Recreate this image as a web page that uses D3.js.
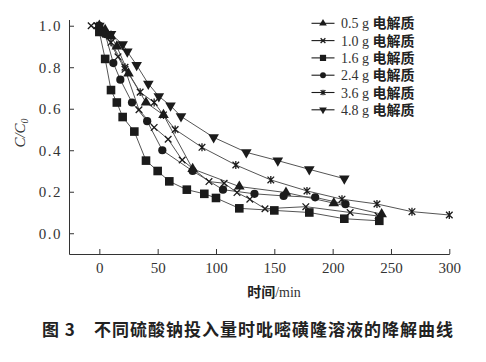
<!DOCTYPE html>
<html><head><meta charset="utf-8">
<script src="https://cdn.jsdelivr.net/npm/d3@7"></script>
<style>
html,body{margin:0;padding:0;background:#fff;}
svg{display:block;}
</style></head>
<body>
<svg id="c" width="486" height="362"></svg>
<script>
// ---- data ----
const seriesNames = ["0.5 g", "1.0 g", "1.6 g", "2.4 g", "3.6 g", "4.8 g"];
const legendSuffix = "电解质";
const t05 = [0, 5, 10, 15, 25, 40, 55, 80, 120, 160, 201, 242];
const c05 = [1.0, 0.98, 0.95, 0.90, 0.77, 0.63, 0.57, 0.31, 0.225, 0.196, 0.145, 0.092];
const t10 = [-7, 5, 16, 22, 34, 47, 59, 71, 94, 107, 118, 129, 142, 177, 215, 239];
const c10 = [1.0, 0.96, 0.85, 0.79, 0.595, 0.51, 0.453, 0.353, 0.249, 0.241, 0.196, 0.164, 0.118, 0.128, 0.10, 0.083];
const t16 = [0, 5, 10, 15, 20, 30, 40, 50, 60, 75, 90, 100, 120, 150, 180, 210, 240];
const c16 = [0.97, 0.84, 0.69, 0.63, 0.56, 0.49, 0.35, 0.30, 0.25, 0.21, 0.19, 0.17, 0.12, 0.11, 0.10, 0.07, 0.06];
const t24 = [0, 5, 12, 18, 28, 41, 54, 80, 106, 133, 158, 185, 211];
const c24 = [1.0, 0.96, 0.82, 0.74, 0.63, 0.54, 0.40, 0.30, 0.21, 0.19, 0.18, 0.173, 0.14];
const t36 = [-2, 10, 22, 35, 47, 55, 65, 88, 117, 147, 178, 208, 238, 268, 300];
const c36 = [1.0, 0.92, 0.80, 0.68, 0.63, 0.57, 0.50, 0.414, 0.329, 0.257, 0.204, 0.164, 0.141, 0.104, 0.088];
const t48 = [0, 10, 20, 24, 32, 42, 51, 61, 70, 98, 126, 153, 180, 210];
const c48 = [1.0, 0.96, 0.91, 0.875, 0.81, 0.72, 0.66, 0.615, 0.563, 0.462, 0.39, 0.35, 0.308, 0.263];
const xTicks = [0, 50, 100, 150, 200, 250, 300];
const yTicks = [0.0, 0.2, 0.4, 0.6, 0.8, 1.0];
const xTitleCN = "时间", xTitleUnit = "/min";
const caption = "图 3\u3000不同硫酸钠投入量时吡嘧磺隆溶液的降解曲线";

const series = [
  {t: t05, c: c05, m: "triUp"},
  {t: t10, c: c10, m: "cross"},
  {t: t16, c: c16, m: "square"},
  {t: t24, c: c24, m: "circle"},
  {t: t36, c: c36, m: "crossBar"},
  {t: t48, c: c48, m: "triDown"}
];

// ---- layout ----
const svg = d3.select("#c");
const x = d3.scaleLinear().domain([-26, 300]).range([69, 449.3]);
const y = d3.scaleLinear().domain([-0.1, 1.03]).range([254, 19.5]);
const serif = "'Liberation Serif','Times New Roman',serif";
const cjk = "'Noto Sans CJK SC','Noto Sans',sans-serif";
const ink = "#1b1b1b";

// axes
const xAxis = d3.axisBottom(x).tickValues(xTicks).tickSizeInner(-5).tickSizeOuter(0).tickPadding(8).tickFormat(d3.format("d"));
const gx = svg.append("g").attr("transform", `translate(0,${y(-0.1)})`).call(xAxis);
const yAxis = d3.axisLeft(y).tickValues(yTicks).tickSizeInner(-5).tickSizeOuter(0).tickPadding(7).tickFormat(d3.format(".1f"));
const gy = svg.append("g").attr("transform", `translate(${x(-26)},0)`).call(yAxis);
[gx, gy].forEach(g => {
  g.select(".domain").attr("stroke", "#333").attr("stroke-width", 1);
  g.selectAll(".tick line").attr("stroke", "#333");
  g.selectAll("text").attr("font-family", serif).attr("font-size", 15).attr("fill", "#333");
});
gy.selectAll("text").attr("letter-spacing", 1.5);

// marker drawing
function drawMarker(g, type, s) {
  if (type === "cross" || type === "crossBar") {
    let p = `M${-s},${-s}L${s},${s}M${-s},${s}L${s},${-s}`;
    if (type === "crossBar") p += `M0,${-s*1.2}L0,${s*1.2}`;
    g.append("path").attr("d", p).attr("stroke", ink).attr("stroke-width", 1.3).attr("fill", "none");
  } else if (type === "square") {
    g.append("path").attr("d", d3.symbol(d3.symbolSquare, s * s * 4)()).attr("fill", ink);
  } else if (type === "circle") {
    g.append("path").attr("d", d3.symbol(d3.symbolCircle, Math.PI * s * s)()).attr("fill", ink);
  } else {
    const tri = d3.symbol(d3.symbolTriangle, s * s * 2.3)();
    g.append("path").attr("d", tri).attr("fill", ink)
      .attr("transform", type === "triDown" ? "rotate(180)" : null);
  }
}
const msize = {triUp: 4.6, cross: 3.3, square: 4.3, circle: 4.1, crossBar: 3.3, triDown: 4.6};

const line = d3.line().x(d => x(d[0])).y(d => y(d[1]));
series.forEach(s => {
  const pts = s.t.map((t, i) => [t, s.c[i]]);
  svg.append("path").datum(pts).attr("d", line).attr("fill", "none").attr("stroke", "#555").attr("stroke-width", 1);
});
series.forEach(s => {
  s.t.forEach((t, i) => {
    const g = svg.append("g").attr("transform", `translate(${x(t)},${y(s.c[i])})`);
    drawMarker(g, s.m, msize[s.m]);
  });
});

// legend
const lg = svg.append("g");
series.forEach((s, i) => {
  const yy = 23.3 + i * 17.3;
  lg.append("line").attr("x1", 311.5).attr("x2", 334.5).attr("y1", yy).attr("y2", yy).attr("stroke", ink).attr("stroke-width", 1.1);
  const g = lg.append("g").attr("transform", `translate(323,${yy})`);
  drawMarker(g, s.m, msize[s.m] * 0.72);
  const tx = lg.append("text").attr("x", 341).attr("y", yy + 5).attr("font-size", 14);
  tx.append("tspan").attr("font-family", serif).attr("fill", "#333").text(seriesNames[i] + " ");
  tx.append("tspan").attr("font-family", cjk).attr("font-weight", 600).attr("fill", "#222").text(legendSuffix);
});

// y title
svg.append("text").attr("transform", "translate(25,133) rotate(-90)").attr("text-anchor", "middle")
  .attr("font-family", serif).attr("font-style", "italic").attr("font-size", 15).attr("fill", "#333")
  .call(t => {
    t.append("tspan").text("C/C");
    t.append("tspan").attr("font-size", 10).attr("dy", 3).text("0");
  });

// x title
const xt = svg.append("text").attr("x", 274).attr("y", 297).attr("text-anchor", "middle").attr("font-size", 14);
xt.append("tspan").attr("font-family", cjk).attr("font-weight", 600).attr("fill", "#222").text(xTitleCN);
xt.append("tspan").attr("font-family", serif).attr("fill", "#333").text(xTitleUnit);

// caption
svg.append("text").attr("x", 42).attr("y", 336).attr("font-family", cjk).attr("font-weight", 600)
  .attr("font-size", 17).attr("fill", "#222").attr("letter-spacing", 1).text(caption);
</script>
</body></html>
